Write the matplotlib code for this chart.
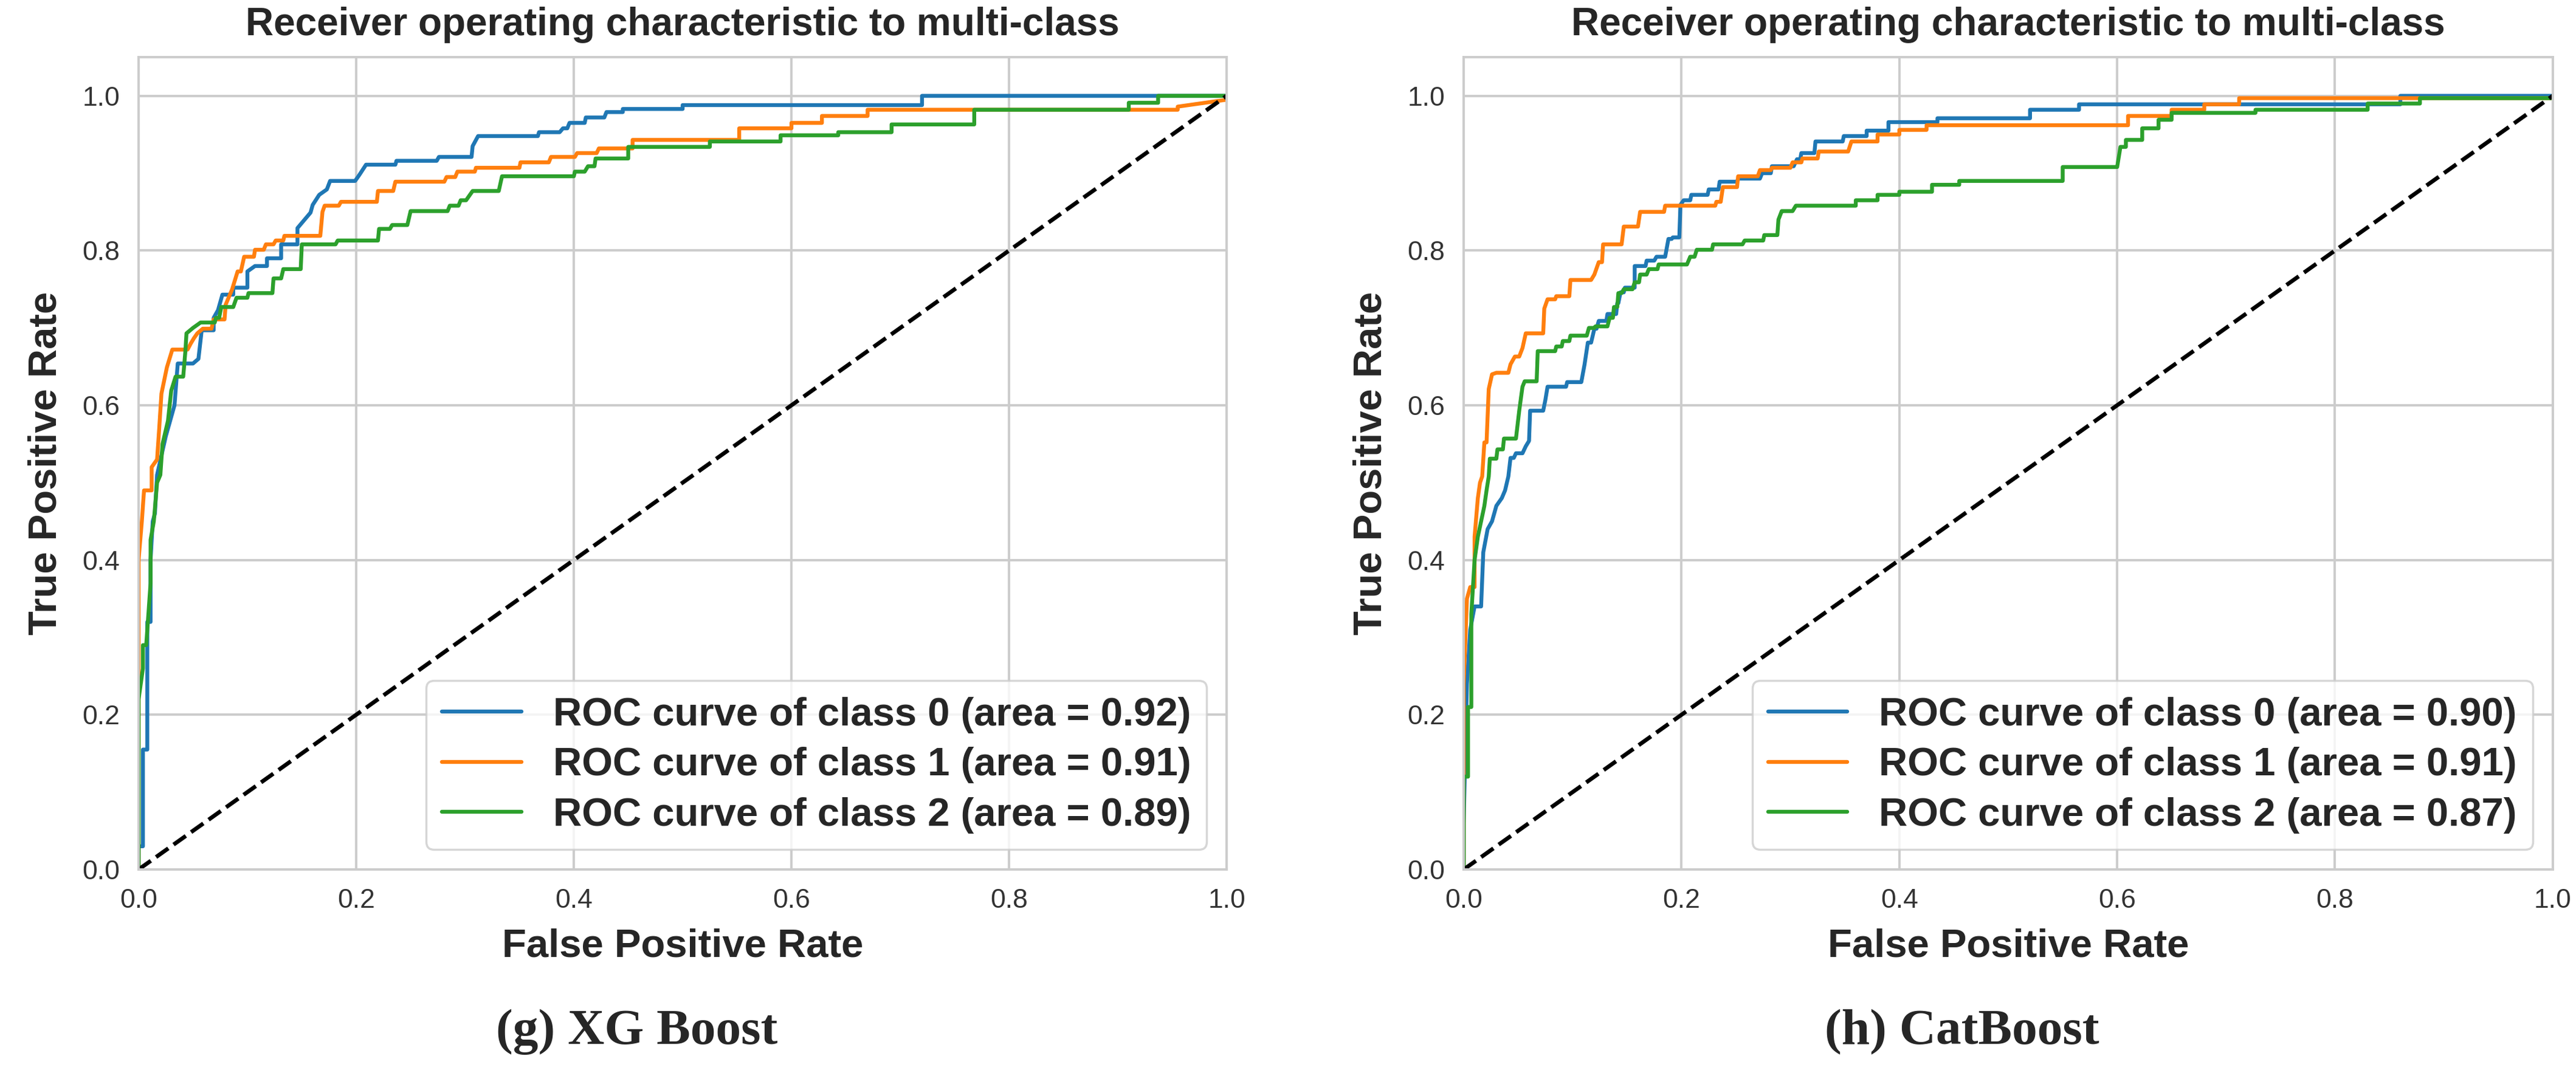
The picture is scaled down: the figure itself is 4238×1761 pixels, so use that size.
import matplotlib
matplotlib.use('Agg')
import seaborn as sns
from matplotlib import pyplot as plt

# ---- data (fpr, tpr corner points) ----
panel_titles = ['Receiver operating characteristic to multi-class',
                'Receiver operating characteristic to multi-class']
captions = ['(g) XG Boost', '(h) CatBoost']
class_names = ['class 0', 'class 1', 'class 2']
colors = ['#1f77b4', '#ff7f0e', '#2ca02c']
ticks = [0.0, 0.2, 0.4, 0.6, 0.8, 1.0]

# XG Boost
xgb_auc = [0.92, 0.91, 0.89]
xgb_fpr_0 = [0, 0, 0.004, 0.004, 0.008, 0.008, 0.011, 0.011, 0.013, 0.015, 0.017, 0.025, 0.033, 0.036, 0.05, 0.055,
             0.058, 0.069, 0.069, 0.073, 0.077, 0.087, 0.087, 0.1, 0.1, 0.107, 0.118, 0.118, 0.131, 0.131, 0.146, 0.146,
             0.158, 0.16, 0.166, 0.173, 0.176, 0.199, 0.203, 0.209, 0.236, 0.237, 0.274, 0.276, 0.306, 0.307, 0.312,
             0.367, 0.368, 0.387, 0.39, 0.394, 0.396, 0.41, 0.411, 0.428, 0.43, 0.445, 0.445, 0.5, 0.5, 0.72, 0.72, 1.0]
xgb_tpr_0 = [0, 0.03, 0.03, 0.155, 0.155, 0.32, 0.32, 0.40, 0.45, 0.46, 0.51, 0.56, 0.60, 0.654, 0.654, 0.66,
             0.697, 0.697, 0.713, 0.723, 0.743, 0.743, 0.752, 0.752, 0.773, 0.78, 0.78, 0.79, 0.79, 0.808, 0.808, 0.829,
             0.849, 0.859, 0.872, 0.879, 0.89, 0.89, 0.898, 0.911, 0.911, 0.916, 0.916, 0.921, 0.921, 0.935, 0.948,
             0.948, 0.953, 0.953, 0.958, 0.958, 0.965, 0.965, 0.972, 0.972, 0.979, 0.979, 0.983, 0.983, 0.988, 0.988,
             1.0, 1.0]
xgb_fpr_1 = [0, 0, 0.003, 0.005, 0.012, 0.012, 0.017, 0.019, 0.021, 0.026, 0.031, 0.045, 0.048, 0.051, 0.054,
             0.059, 0.067, 0.069, 0.079, 0.08, 0.086, 0.091, 0.094, 0.097, 0.106, 0.107, 0.115, 0.117, 0.124, 0.126,
             0.133, 0.134, 0.167, 0.169, 0.171, 0.184, 0.186, 0.219, 0.22, 0.234, 0.236, 0.281, 0.283, 0.291, 0.293,
             0.309, 0.31, 0.35, 0.351, 0.377, 0.379, 0.401, 0.403, 0.421, 0.423, 0.454, 0.454, 0.552, 0.552, 0.6,
             0.6, 0.628, 0.628, 0.67, 0.67, 0.955, 0.955, 1.0, 1.0]
xgb_tpr_1 = [0, 0.40, 0.45, 0.49, 0.49, 0.52, 0.53, 0.571, 0.615, 0.649, 0.672, 0.672, 0.68, 0.687, 0.693,
             0.699, 0.699, 0.711, 0.711, 0.73, 0.75, 0.773, 0.773, 0.792, 0.792, 0.801, 0.801, 0.808, 0.808, 0.813,
             0.813, 0.819, 0.819, 0.85, 0.858, 0.858, 0.863, 0.863, 0.877, 0.877, 0.889, 0.889, 0.895, 0.895, 0.902,
             0.902, 0.907, 0.907, 0.914, 0.914, 0.921, 0.921, 0.926, 0.926, 0.932, 0.932, 0.943, 0.943, 0.958, 0.958,
             0.965, 0.965, 0.974, 0.974, 0.982, 0.982, 0.986, 0.995, 1.0]
xgb_fpr_2 = [0, 0, 0.004, 0.004, 0.007, 0.011, 0.011, 0.014, 0.017, 0.02, 0.022, 0.027, 0.03, 0.034, 0.041,
             0.043, 0.044, 0.05, 0.057, 0.07, 0.071, 0.074, 0.076, 0.087, 0.09, 0.1, 0.101, 0.123, 0.124, 0.131,
             0.133, 0.149, 0.15, 0.181, 0.183, 0.22, 0.221, 0.231, 0.233, 0.247, 0.25, 0.284, 0.286, 0.294, 0.296,
             0.301, 0.307, 0.331, 0.334, 0.4, 0.401, 0.41, 0.413, 0.419, 0.42, 0.45, 0.45, 0.525, 0.525, 0.59,
             0.59, 0.643, 0.643, 0.692, 0.692, 0.768, 0.768, 0.91, 0.91, 0.937, 0.937, 1.0]
xgb_tpr_2 = [0, 0.22, 0.26, 0.29, 0.29, 0.37, 0.426, 0.45, 0.50, 0.51, 0.55, 0.58, 0.619, 0.637, 0.637,
             0.67, 0.693, 0.70, 0.707, 0.707, 0.713, 0.713, 0.727, 0.727, 0.739, 0.739, 0.745, 0.745, 0.764, 0.764,
             0.776, 0.776, 0.808, 0.808, 0.813, 0.813, 0.828, 0.828, 0.833, 0.833, 0.851, 0.851, 0.858, 0.858, 0.865,
             0.865, 0.877, 0.877, 0.896, 0.896, 0.902, 0.902, 0.909, 0.909, 0.919, 0.919, 0.934, 0.934, 0.941, 0.941,
             0.949, 0.949, 0.953, 0.953, 0.963, 0.963, 0.982, 0.982, 0.991, 0.991, 1.0, 1.0]

# CatBoost
cat_auc = [0.90, 0.91, 0.87]
cat_fpr_0 = [0, 0, 0.003, 0.006, 0.01, 0.016, 0.018, 0.022, 0.026, 0.03, 0.035, 0.038, 0.041, 0.043, 0.046,
             0.048, 0.054, 0.057, 0.06, 0.061, 0.063, 0.073, 0.075, 0.077, 0.094, 0.095, 0.108, 0.111, 0.114, 0.117,
             0.12, 0.122, 0.124, 0.131, 0.132, 0.14, 0.141, 0.142, 0.144, 0.147, 0.148, 0.157, 0.157, 0.167, 0.168,
             0.175, 0.177, 0.185, 0.188, 0.191, 0.192, 0.198, 0.199, 0.202, 0.208, 0.209, 0.224, 0.225, 0.234,
             0.235, 0.251, 0.252, 0.272, 0.274, 0.282, 0.283, 0.303, 0.306, 0.309, 0.31, 0.322, 0.323, 0.348, 0.349,
             0.37, 0.37, 0.39, 0.39, 0.435, 0.435, 0.52, 0.52, 0.565, 0.565, 0.86, 0.86, 1.0]
cat_tpr_0 = [0, 0.06, 0.24, 0.31, 0.34, 0.34, 0.41, 0.44, 0.45, 0.47, 0.48, 0.49, 0.508, 0.532, 0.532,
             0.538, 0.538, 0.547, 0.554, 0.593, 0.593, 0.593, 0.607, 0.624, 0.624, 0.63, 0.63, 0.653, 0.681, 0.681,
             0.699, 0.699, 0.709, 0.709, 0.718, 0.718, 0.732, 0.732, 0.746, 0.746, 0.752, 0.752, 0.78, 0.78, 0.787,
             0.787, 0.792, 0.792, 0.815, 0.815, 0.817, 0.817, 0.859, 0.865, 0.865, 0.872, 0.872, 0.879, 0.879,
             0.889, 0.889, 0.893, 0.893, 0.9, 0.9, 0.909, 0.909, 0.918, 0.918, 0.926, 0.926, 0.941, 0.941, 0.948,
             0.948, 0.955, 0.955, 0.966, 0.966, 0.971, 0.971, 0.982, 0.982, 0.989, 0.989, 1.0, 1.0]
cat_fpr_1 = [0, 0, 0.003, 0.006, 0.01, 0.01, 0.013, 0.015, 0.017, 0.019, 0.021, 0.023, 0.026, 0.03, 0.041,
             0.043, 0.047, 0.051, 0.054, 0.057, 0.073, 0.074, 0.077, 0.084, 0.085, 0.097, 0.098, 0.117, 0.12, 0.124,
             0.127, 0.128, 0.145, 0.147, 0.16, 0.162, 0.184, 0.185, 0.231, 0.232, 0.236, 0.238, 0.251, 0.252, 0.27,
             0.272, 0.282, 0.283, 0.3, 0.302, 0.31, 0.311, 0.325, 0.326, 0.353, 0.356, 0.38, 0.38, 0.4, 0.4, 0.425,
             0.425, 0.61, 0.61, 0.65, 0.65, 0.68, 0.68, 0.712, 0.712, 1.0, 1.0]
cat_tpr_1 = [0, 0.24, 0.35, 0.365, 0.365, 0.43, 0.48, 0.50, 0.508, 0.552, 0.552, 0.621, 0.64, 0.642, 0.642,
             0.653, 0.663, 0.663, 0.674, 0.693, 0.693, 0.725, 0.737, 0.737, 0.741, 0.741, 0.762, 0.762, 0.769, 0.785,
             0.785, 0.808, 0.808, 0.831, 0.831, 0.85, 0.85, 0.858, 0.858, 0.863, 0.863, 0.882, 0.882, 0.896, 0.896,
             0.904, 0.904, 0.907, 0.907, 0.914, 0.914, 0.919, 0.919, 0.928, 0.928, 0.941, 0.941, 0.95, 0.95, 0.956,
             0.956, 0.962, 0.962, 0.974, 0.974, 0.982, 0.982, 0.989, 0.989, 0.997, 0.997, 1.0]
cat_fpr_2 = [0, 0, 0.004, 0.004, 0.007, 0.007, 0.01, 0.013, 0.016, 0.019, 0.021, 0.023, 0.024, 0.03, 0.031,
             0.036, 0.037, 0.048, 0.051, 0.054, 0.056, 0.067, 0.068, 0.084, 0.085, 0.09, 0.091, 0.097, 0.098, 0.113,
             0.115, 0.12, 0.121, 0.132, 0.134, 0.137, 0.138, 0.141, 0.142, 0.145, 0.147, 0.155, 0.157, 0.161, 0.162,
             0.168, 0.17, 0.178, 0.179, 0.205, 0.208, 0.212, 0.214, 0.228, 0.229, 0.256, 0.258, 0.275, 0.276, 0.288,
             0.289, 0.292, 0.293, 0.302, 0.305, 0.36, 0.36, 0.38, 0.38, 0.4, 0.4, 0.43, 0.43, 0.455, 0.455, 0.55,
             0.55, 0.6, 0.603, 0.608, 0.608, 0.623, 0.623, 0.638, 0.638, 0.65, 0.65, 0.727, 0.727, 0.83, 0.83, 0.878,
             0.878, 1.0, 1.0]
cat_tpr_2 = [0, 0.12, 0.12, 0.21, 0.21, 0.33, 0.40, 0.43, 0.45, 0.47, 0.49, 0.508, 0.531, 0.531, 0.543,
             0.543, 0.557, 0.557, 0.593, 0.624, 0.631, 0.631, 0.67, 0.67, 0.676, 0.676, 0.683, 0.683, 0.69, 0.69,
             0.70, 0.70, 0.702, 0.702, 0.713, 0.713, 0.727, 0.727, 0.745, 0.745, 0.75, 0.75, 0.759, 0.759, 0.769,
             0.769, 0.776, 0.776, 0.782, 0.782, 0.792, 0.792, 0.801, 0.801, 0.808, 0.808, 0.813, 0.813, 0.82, 0.82,
             0.84, 0.851, 0.851, 0.851, 0.858, 0.858, 0.865, 0.865, 0.872, 0.872, 0.876, 0.876, 0.885, 0.885, 0.89,
             0.89, 0.908, 0.908, 0.934, 0.934, 0.943, 0.943, 0.958, 0.958, 0.969, 0.969, 0.978, 0.978, 0.982, 0.982,
             0.99, 0.99, 0.997, 0.997, 1.0]

panels = [
    ([xgb_fpr_0, xgb_fpr_1, xgb_fpr_2], [xgb_tpr_0, xgb_tpr_1, xgb_tpr_2], xgb_auc),
    ([cat_fpr_0, cat_fpr_1, cat_fpr_2], [cat_tpr_0, cat_tpr_1, cat_tpr_2], cat_auc),
]


def draw_panel(ax, fprs, tprs, aucs, title):
    for fpr, tpr, auc, name, c in zip(fprs, tprs, aucs, class_names, colors):
        ax.plot(fpr, tpr, color=c, lw=4.6,
                label='ROC curve of {} (area = {:.2f})'.format(name, auc))
    ax.plot([0, 1], [0, 1], 'k--', lw=4.8)
    ax.set_xlim(0.0, 1.0)
    ax.set_ylim(0.0, 1.05)
    ax.set_xticks(ticks)
    ax.set_yticks(ticks)
    ax.tick_params(labelsize=32, pad=22, length=0, colors='#333333')
    ax.grid(True, color='#cccccc', lw=2.8)
    for sp in ax.spines.values():
        sp.set_color('#cccccc')
        sp.set_linewidth(2.8)
    ax.set_xlabel('False Positive Rate', fontsize=47, fontweight='bold', labelpad=18, color='#262626')
    ax.set_ylabel('True Positive Rate', fontsize=47, fontweight='bold', labelpad=22, color='#262626')
    ax.set_title(title, fontsize=46, fontweight='bold', pad=26, color='#262626')
    leg = ax.legend(loc='lower right', prop={'size': 47, 'weight': 'bold'},
                    labelspacing=0.35, framealpha=0.8, edgecolor='#cccccc')
    leg.get_frame().set_linewidth(2.5)
    for t in leg.get_texts():
        t.set_color('#262626')


def main():
    sns.set_style('whitegrid')
    plt.rcParams['font.family'] = ['Liberation Sans', 'DejaVu Sans']
    fig = plt.figure(figsize=(42.38, 17.61), dpi=100)
    ax1 = fig.add_axes([0.0538, 0.1874, 0.4224, 0.7592])
    ax2 = fig.add_axes([0.5682, 0.1874, 0.4228, 0.7592])
    for ax, (fprs, tprs, aucs), title in zip([ax1, ax2], panels, panel_titles):
        draw_panel(ax, fprs, tprs, aucs, title)
    # sub-figure captions
    for xc, cap in zip([0.2473, 0.7617], captions):
        fig.text(xc, 0.0244, cap, ha='center', va='baseline', fontsize=60,
                 fontweight='bold', family=['Liberation Serif', 'DejaVu Serif'])
    fig.savefig('out.png', dpi=100)


if __name__ == '__main__':
    main()
